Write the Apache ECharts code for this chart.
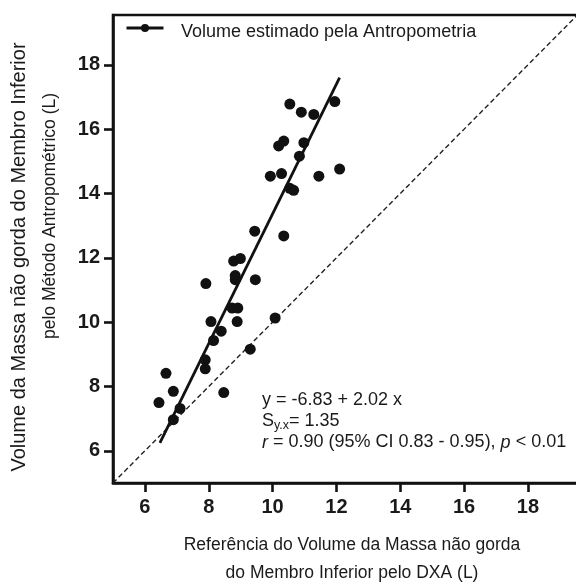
<!DOCTYPE html>
<html><head><meta charset="utf-8">
<script src="https://cdn.jsdelivr.net/npm/echarts@6/dist/echarts.min.js"></script>
<style>html,body{margin:0;padding:0;background:#fff}#c{width:576px;height:585px}</style>
</head><body><div id="c"></div>
<script>
// Reference DXA volume (x) and anthropometric volume (y), litres
const dxaX = [6.44, 6.66, 6.89, 6.89, 7.10, 7.89, 7.89, 8.15, 8.39, 8.47, 8.07, 8.89, 8.73, 8.91, 9.30, 10.08, 7.91, 8.83, 8.83, 8.78, 8.99, 9.46, 9.44, 10.35, 10.54, 10.66, 9.93, 10.28, 11.45, 12.10, 10.84, 10.19, 10.35, 10.98, 10.54, 10.90, 11.29, 11.95];
const antroY = [7.50, 8.41, 7.85, 6.97, 7.32, 8.83, 8.55, 9.43, 9.72, 7.81, 10.02, 10.02, 10.44, 10.44, 9.16, 10.13, 11.20, 11.45, 11.32, 11.90, 11.98, 11.32, 12.83, 12.68, 14.16, 14.10, 14.54, 14.62, 14.54, 14.76, 15.16, 15.48, 15.63, 15.58, 16.78, 16.53, 16.46, 16.86];
// Regression line end points
const fitX = [6.47, 12.1];
const fitY = [6.25, 17.6];
// Identity line end points
const identX = [5, 19.6];
const identY = [5, 19.6];
const tickValues = [6, 8, 10, 12, 14, 16, 18];
const legendName = 'Volume estimado pela Antropometria';
const xTitle = ['Referência do Volume da Massa não gorda', 'do Membro Inferior pelo DXA (L)'];
const yTitle = ['Volume da Massa não gorda do Membro Inferior', 'pelo Método Antropométrico (L)'];

const FONT = "'Liberation Sans', Arial, sans-serif";
const chart = echarts.init(document.getElementById('c'), null, {renderer: 'canvas'});

const axisCommon = {
  type: 'value',
  splitLine: {show: false},
  axisLine: {show: true, lineStyle: {color: '#111', width: 2.6}},
  axisTick: {show: true, customValues: tickValues, length: 9, lineStyle: {color: '#111', width: 2.6}},
  axisLabel: {customValues: tickValues, color: '#1a1a1a', fontFamily: FONT, fontWeight: 'bold', fontSize: 20}
};

chart.setOption({
  animation: false,
  backgroundColor: '#fff',
  grid: {left: 113, right: -3, top: 15, bottom: 102, show: true, borderColor: '#111', borderWidth: 2.6, outerBoundsMode: 'none', containLabel: false},
  xAxis: Object.assign({}, axisCommon, {min: 5, max: 19.6, axisLabel: Object.assign({}, axisCommon.axisLabel, {margin: 14})}),
  yAxis: Object.assign({}, axisCommon, {min: 5, max: 19.55, axisLabel: Object.assign({}, axisCommon.axisLabel, {margin: 13})}),
  legend: {
    show: true, left: 120, top: 18, orient: 'horizontal',
    itemWidth: 37, itemHeight: 10,
    data: [legendName],
    formatter: () => '',
    lineStyle: {width: 3, color: '#111'},
    itemStyle: {color: '#111'},
    textStyle: {fontFamily: FONT, fontSize: 18, color: '#1a1a1a'}
  },
  series: [
    {
      type: 'line', name: 'identity', data: identX.map((v, i) => [v, identY[i]]),
      symbol: 'none', silent: true,
      lineStyle: {color: '#222', width: 1.4, type: [5, 3]}, z: 1
    },
    {
      type: 'line', name: legendName, data: fitX.map((v, i) => [v, fitY[i]]),
      symbol: 'none', color: '#111',
      lineStyle: {color: '#111', width: 2.8}, itemStyle: {color: '#111'}, z: 3
    },
    {
      type: 'scatter', name: 'pontos', data: dxaX.map((v, i) => [v, antroY[i]]),
      symbol: 'circle', symbolSize: 11, itemStyle: {color: '#111', opacity: 1}, z: 4
    }
  ],
  graphic: [
    {type: 'text', x: 181, y: 32, style: {text: legendName, font: '18px ' + FONT, fill: '#1a1a1a', align: 'left', verticalAlign: 'middle'}},
    {type: 'text', x: 352, y: 545, style: {text: xTitle[0], font: '17.5px ' + FONT, fill: '#1a1a1a', align: 'center', verticalAlign: 'middle'}},
    {type: 'text', x: 352, y: 573, style: {text: xTitle[1], font: '17.5px ' + FONT, fill: '#1a1a1a', align: 'center', verticalAlign: 'middle'}},
    {type: 'text', x: 19, y: 257, rotation: Math.PI / 2, style: {text: yTitle[0], font: '20px ' + FONT, fill: '#1a1a1a', align: 'center', verticalAlign: 'middle'}},
    {type: 'text', x: 50, y: 216, rotation: Math.PI / 2, style: {text: yTitle[1], font: '17.5px ' + FONT, fill: '#1a1a1a', align: 'center', verticalAlign: 'middle'}},
    {type: 'text', x: 262, y: 390, style: {
      text: 'y = -6.83 + 2.02 x\nS{sub|y.x}= 1.35\n{i|r} = 0.90 (95% CI 0.83 - 0.95), {i|p} < 0.01',
      font: '18px ' + FONT, fill: '#1a1a1a', lineHeight: 21, align: 'left', verticalAlign: 'top',
      rich: {
        sub: {fontSize: 12.5, fontFamily: FONT, fill: '#1a1a1a', padding: [9, 0, 0, 0], lineHeight: 13},
        i: {fontStyle: 'italic', fontSize: 18, fontFamily: FONT, fill: '#1a1a1a', lineHeight: 21}
      }
    }}
  ]
});
</script></body></html>
